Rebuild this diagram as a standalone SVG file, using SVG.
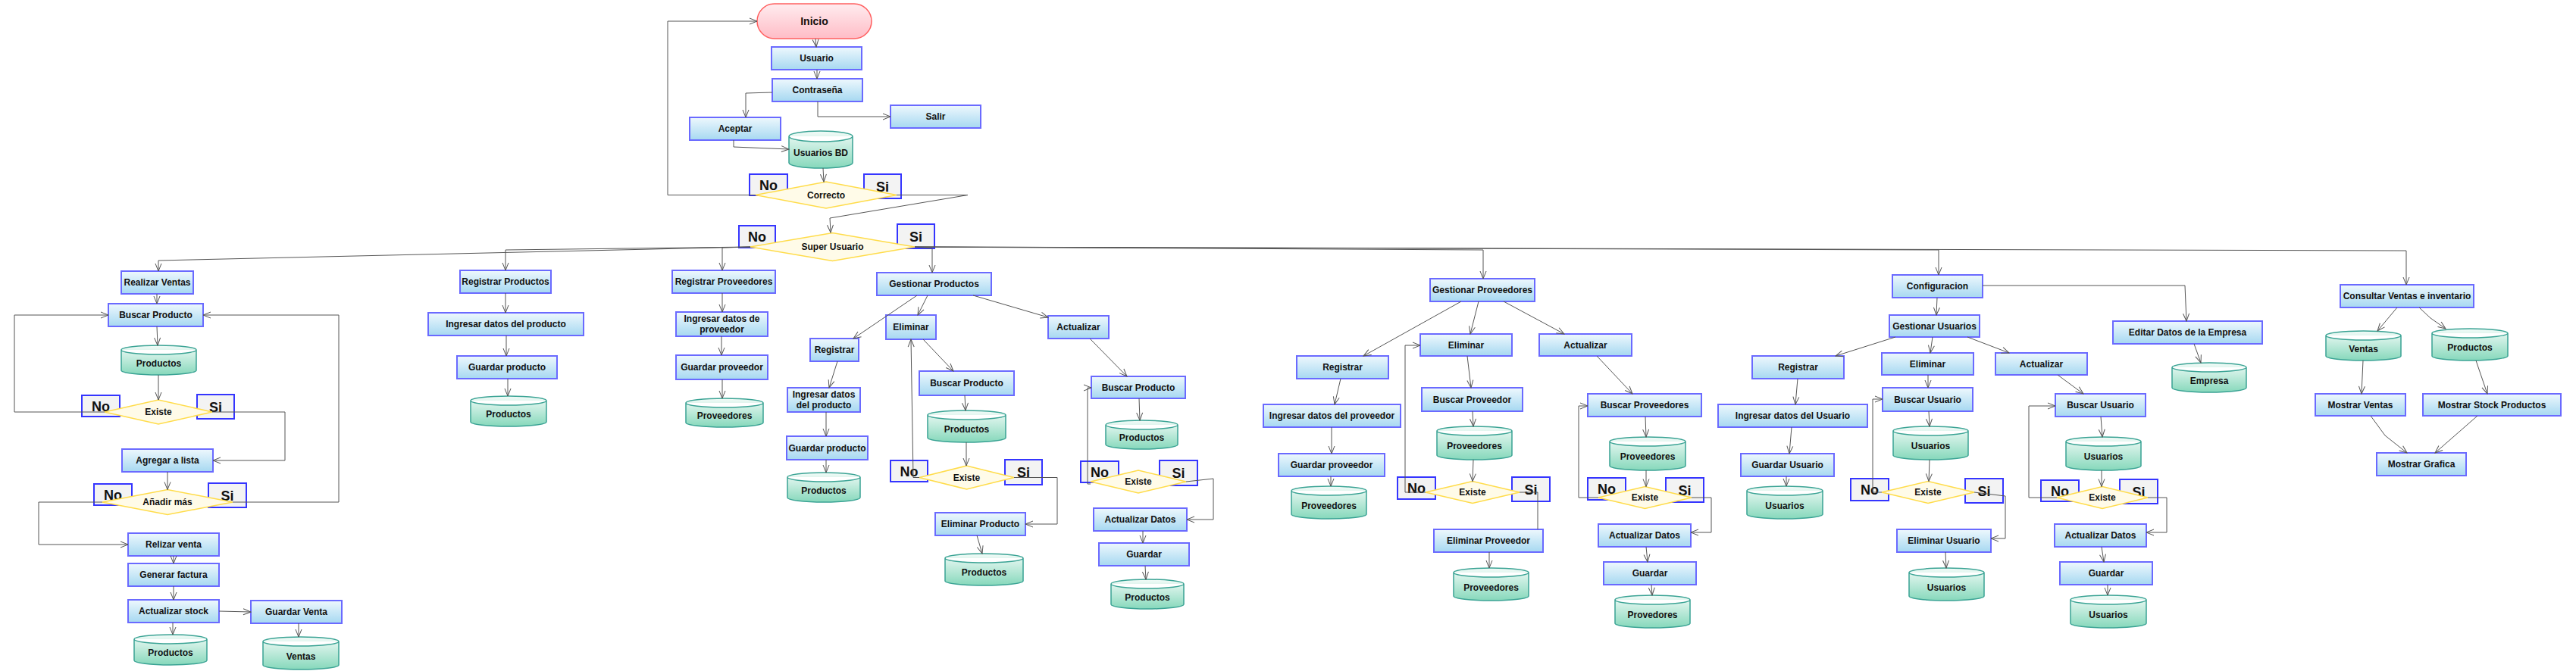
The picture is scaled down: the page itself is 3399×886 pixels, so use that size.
<svg xmlns="http://www.w3.org/2000/svg" width="3399" height="886" viewBox="0 0 3399 886">
<style>
.b{fill:url(#gb);stroke:#6a6aff;stroke-width:2}
.c{fill:url(#gc);stroke:#3aa394;stroke-width:1.5}
.d{fill:#fffbe8;stroke:#ffdc4a;stroke-width:1.5}
.l{fill:#f3f3f3;stroke:#3535ff;stroke-width:2}
text{font-family:"Liberation Sans",Arial,sans-serif;font-weight:bold;fill:#111;text-anchor:middle}
.t{font-size:12px}
.lt{font-size:18px}
.e polyline{fill:none;stroke:#555;stroke-width:1;marker-end:url(#a)}
.e .n{marker-end:none}
</style>
<defs>
<linearGradient id="gb" x1="0" y1="0" x2="0" y2="1"><stop offset="0" stop-color="#eef8fd"/><stop offset="1" stop-color="#a6d8f1"/></linearGradient>
<linearGradient id="gc" x1="0" y1="0" x2="0" y2="1"><stop offset="0" stop-color="#f2fbf8"/><stop offset="1" stop-color="#86d8bb"/></linearGradient>
<linearGradient id="gi" x1="0" y1="0" x2="0" y2="1"><stop offset="0" stop-color="#ffecef"/><stop offset="1" stop-color="#ffbcc6"/></linearGradient>
<marker id="a" markerWidth="12" markerHeight="10" refX="11" refY="5" orient="auto" markerUnits="userSpaceOnUse"><path d="M1,1 L11,5 L1,9" fill="none" stroke="#555" stroke-width="1"/></marker>
</defs>
<rect width="3399" height="886" fill="#fff"/>

<g id="inicio"><rect x="999" y="5" width="151" height="46" rx="23" fill="url(#gi)" stroke="#ff6060" stroke-width="1.5"/><text class="t" x="1074.5" y="33" style="font-size:14px">Inicio</text></g>
<g id="usuario"><rect class="b" x="1018" y="62" width="119" height="30"/><text class="t" x="1077.5" y="81">Usuario</text></g>
<g id="contrasena"><rect class="b" x="1019" y="104" width="119" height="30"/><text class="t" x="1078.5" y="123">Contraseña</text></g>
<g id="aceptar"><rect class="b" x="910" y="155" width="120" height="30"/><text class="t" x="970" y="174">Aceptar</text></g>
<g id="salir"><rect class="b" x="1175" y="139" width="119" height="30"/><text class="t" x="1234.5" y="158">Salir</text></g>
<g id="usuariosBD"><path class="c" d="M1041,180a42,7 0 0 1 84,0v35a42,7 0 0 1-84,0zM1041,180a42,7 0 0 0 84,0"/><text class="t" x="1083" y="205.5">Usuarios BD</text></g>
<g id="correcto"><rect class="l" x="989" y="230" width="50" height="28"/><text class="lt" x="1014" y="250.5">No</text><rect class="l" x="1140" y="230" width="49" height="32"/><text class="lt" x="1164.5" y="252.5">Si</text><polygon class="d" points="997,257.5 1090,240 1183,257.5 1090,275"/><text class="t" x="1090" y="261.5">Correcto</text></g>
<g id="superUsuario"><rect class="l" x="975" y="298" width="48" height="29"/><text class="lt" x="999" y="319">No</text><rect class="l" x="1184" y="296" width="49" height="32"/><text class="lt" x="1208.5" y="318.5">Si</text><polygon class="d" points="990,326 1098.5,307.5 1207,326 1098.5,344.5"/><text class="t" x="1098.5" y="330">Super Usuario</text></g>

<g id="realizarVentas"><rect class="b" x="160" y="358" width="95" height="30"/><text class="t" x="207.5" y="377">Realizar Ventas</text></g>
<g id="rv_buscarProducto"><rect class="b" x="143" y="401" width="125" height="30"/><text class="t" x="205.5" y="420">Buscar Producto</text></g>
<g id="rv_productos1"><path class="c" d="M160,462a49.5,6 0 0 1 99,0v27a49.5,6 0 0 1-99,0zM160,462a49.5,6 0 0 0 99,0"/><text class="t" x="209.5" y="483.5">Productos</text></g>
<g id="rv_existe"><rect class="l" x="108" y="522" width="50" height="28"/><text class="lt" x="133" y="542.5">No</text><rect class="l" x="260" y="521" width="49" height="32"/><text class="lt" x="284.5" y="543.5">Si</text><polygon class="d" points="138,544 209,528 280,544 209,560"/><text class="t" x="209" y="548">Existe</text></g>
<g id="rv_agregar"><rect class="b" x="161" y="593" width="120" height="30"/><text class="t" x="221" y="612">Agregar a lista</text></g>
<g id="rv_anadir"><rect class="l" x="124" y="639" width="50" height="28"/><text class="lt" x="149" y="659.5">No</text><rect class="l" x="275" y="638" width="50" height="32"/><text class="lt" x="300" y="660.5">Si</text><polygon class="d" points="135,663 221,646.5 307,663 221,679.5"/><text class="t" x="221" y="667">Añadir más</text></g>
<g id="rv_relizar"><rect class="b" x="169" y="704" width="120" height="30"/><text class="t" x="229" y="723">Relizar venta</text></g>
<g id="rv_generar"><rect class="b" x="169" y="744" width="120" height="30"/><text class="t" x="229" y="763">Generar factura</text></g>
<g id="rv_actualizarStock"><rect class="b" x="169" y="792" width="120" height="30"/><text class="t" x="229" y="811">Actualizar stock</text></g>
<g id="rv_guardarVenta"><rect class="b" x="331" y="793" width="120" height="30"/><text class="t" x="391" y="812">Guardar Venta</text></g>
<g id="rv_productos2"><path class="c" d="M177,844a48,6 0 0 1 96,0v28a48,6 0 0 1-96,0zM177,844a48,6 0 0 0 96,0"/><text class="t" x="225" y="866">Productos</text></g>
<g id="rv_ventas"><path class="c" d="M347,847a50,6 0 0 1 100,0v31a50,6 0 0 1-100,0zM347,847a50,6 0 0 0 100,0"/><text class="t" x="397" y="870.5">Ventas</text></g>

<g id="registrarProductos"><rect class="b" x="607" y="357" width="120" height="30"/><text class="t" x="667" y="376">Registrar Productos</text></g>
<g id="rp_ingresar"><rect class="b" x="565" y="413" width="205" height="30"/><text class="t" x="667.5" y="432">Ingresar datos del producto</text></g>
<g id="rp_guardar"><rect class="b" x="603" y="470" width="132" height="30"/><text class="t" x="669" y="489">Guardar producto</text></g>
<g id="rp_productos"><path class="c" d="M621,529a50,6 0 0 1 100,0v28a50,6 0 0 1-100,0zM621,529a50,6 0 0 0 100,0"/><text class="t" x="671" y="551">Productos</text></g>

<g id="registrarProveedores"><rect class="b" x="887" y="357" width="136" height="30"/><text class="t" x="955" y="376">Registrar Proveedores</text></g>
<g id="rpr_ingresar"><rect class="b" x="892" y="412" width="121" height="32"/><text class="t" x="952.5" y="425">Ingresar datos de</text><text class="t" x="952.5" y="439">proveedor</text></g>
<g id="rpr_guardar"><rect class="b" x="892" y="469" width="121" height="32"/><text class="t" x="952.5" y="489">Guardar proveedor</text></g>
<g id="rpr_proveedores"><path class="c" d="M905,532a51,6 0 0 1 102,0v26a51,6 0 0 1-102,0zM905,532a51,6 0 0 0 102,0"/><text class="t" x="956" y="553">Proveedores</text></g>

<g id="gestionarProductos"><rect class="b" x="1157" y="360" width="151" height="30"/><text class="t" x="1232.5" y="379">Gestionar Productos</text></g>
<g id="gp_registrar"><rect class="b" x="1069" y="447" width="64" height="30"/><text class="t" x="1101" y="466">Registrar</text></g>
<g id="gp_ingresar"><rect class="b" x="1039" y="512" width="96" height="32"/><text class="t" x="1087" y="525">Ingresar datos</text><text class="t" x="1087" y="539">del producto</text></g>
<g id="gp_guardar"><rect class="b" x="1038" y="576" width="107" height="31"/><text class="t" x="1091.5" y="595.5">Guardar producto</text></g>
<g id="gp_productos1"><path class="c" d="M1039,630a48,6 0 0 1 96,0v27a48,6 0 0 1-96,0zM1039,630a48,6 0 0 0 96,0"/><text class="t" x="1087" y="651.5">Productos</text></g>
<g id="gp_eliminar"><rect class="b" x="1169" y="416" width="66" height="32"/><text class="t" x="1202" y="436">Eliminar</text></g>
<g id="gp_buscar1"><rect class="b" x="1213" y="490" width="125" height="32"/><text class="t" x="1275.5" y="510">Buscar Producto</text></g>
<g id="gp_productos2"><path class="c" d="M1224,548a51.5,6 0 0 1 103,0v30a51.5,6 0 0 1-103,0zM1224,548a51.5,6 0 0 0 103,0"/><text class="t" x="1275.5" y="571">Productos</text></g>
<g id="gp_existe1"><rect class="l" x="1175" y="608" width="49" height="28"/><text class="lt" x="1199.5" y="628.5">No</text><rect class="l" x="1326" y="607" width="49" height="33"/><text class="lt" x="1350.5" y="630">Si</text><polygon class="d" points="1213,630.5 1275.5,615 1338,630.5 1275.5,646"/><text class="t" x="1275.5" y="634.5">Existe</text></g>
<g id="gp_eliminarProducto"><rect class="b" x="1234" y="677" width="119" height="30"/><text class="t" x="1293.5" y="696">Eliminar Producto</text></g>
<g id="gp_productos3"><path class="c" d="M1247,737a51.5,6 0 0 1 103,0v30a51.5,6 0 0 1-103,0zM1247,737a51.5,6 0 0 0 103,0"/><text class="t" x="1298.5" y="760">Productos</text></g>
<g id="gp_actualizar"><rect class="b" x="1383" y="417" width="80" height="30"/><text class="t" x="1423" y="436">Actualizar</text></g>
<g id="gp_buscar2"><rect class="b" x="1440" y="497" width="124" height="29"/><text class="t" x="1502" y="515.5">Buscar Producto</text></g>
<g id="gp_productos4"><path class="c" d="M1459,561a47.5,6 0 0 1 95,0v26a47.5,6 0 0 1-95,0zM1459,561a47.5,6 0 0 0 95,0"/><text class="t" x="1506.5" y="582">Productos</text></g>
<g id="gp_existe2"><rect class="l" x="1426" y="609" width="50" height="28"/><text class="lt" x="1451" y="629.5">No</text><rect class="l" x="1530" y="608" width="50" height="33"/><text class="lt" x="1555" y="631">Si</text><polygon class="d" points="1439,636 1502,621 1565,636 1502,651"/><text class="t" x="1502" y="640">Existe</text></g>
<g id="gp_actualizarDatos"><rect class="b" x="1443" y="671" width="123" height="30"/><text class="t" x="1504.5" y="690">Actualizar Datos</text></g>
<g id="gp_guardar2"><rect class="b" x="1450" y="717" width="119" height="30"/><text class="t" x="1509.5" y="736">Guardar</text></g>
<g id="gp_productos5"><path class="c" d="M1466,771a48,6 0 0 1 96,0v27a48,6 0 0 1-96,0zM1466,771a48,6 0 0 0 96,0"/><text class="t" x="1514" y="792.5">Productos</text></g>

<g id="gestionarProveedores"><rect class="b" x="1887" y="368" width="138" height="30"/><text class="t" x="1956" y="387">Gestionar Proveedores</text></g>
<g id="gpr_registrar"><rect class="b" x="1711" y="470" width="121" height="30"/><text class="t" x="1771.5" y="489">Registrar</text></g>
<g id="gpr_ingresar"><rect class="b" x="1667" y="534" width="181" height="30"/><text class="t" x="1757.5" y="553">Ingresar datos del proveedor</text></g>
<g id="gpr_guardar"><rect class="b" x="1687" y="599" width="140" height="30"/><text class="t" x="1757" y="618">Guardar proveedor</text></g>
<g id="gpr_proveedores1"><path class="c" d="M1704,648a49.5,6 0 0 1 99,0v31a49.5,6 0 0 1-99,0zM1704,648a49.5,6 0 0 0 99,0"/><text class="t" x="1753.5" y="671.5">Proveedores</text></g>
<g id="gpr_eliminar"><rect class="b" x="1874" y="441" width="121" height="29"/><text class="t" x="1934.5" y="459.5">Eliminar</text></g>
<g id="gpr_buscar"><rect class="b" x="1876" y="512" width="133" height="31"/><text class="t" x="1942.5" y="531.5">Buscar Proveedor</text></g>
<g id="gpr_proveedores2"><path class="c" d="M1896,569a49.5,6 0 0 1 99,0v32a49.5,6 0 0 1-99,0zM1896,569a49.5,6 0 0 0 99,0"/><text class="t" x="1945.5" y="593">Proveedores</text></g>
<g id="gpr_existe1"><rect class="l" x="1844" y="630" width="50" height="29"/><text class="lt" x="1869" y="651">No</text><rect class="l" x="1995" y="630" width="50" height="32"/><text class="lt" x="2020" y="652.5">Si</text><polygon class="d" points="1881,650 1943,635.5 2005,650 1943,664.5"/><text class="t" x="1943" y="654">Existe</text></g>
<g id="gpr_eliminarProveedor"><rect class="b" x="1892" y="699" width="144" height="30"/><text class="t" x="1964" y="718">Eliminar Proveedor</text></g>
<g id="gpr_proveedores3"><path class="c" d="M1918,756a49.5,6 0 0 1 99,0v31a49.5,6 0 0 1-99,0zM1918,756a49.5,6 0 0 0 99,0"/><text class="t" x="1967.5" y="779.5">Proveedores</text></g>
<g id="gpr_actualizar"><rect class="b" x="2031" y="441" width="122" height="29"/><text class="t" x="2092" y="459.5">Actualizar</text></g>
<g id="gpr_buscar2"><rect class="b" x="2095" y="520" width="150" height="30"/><text class="t" x="2170" y="539">Buscar Proveedores</text></g>
<g id="gpr_proveedores4"><path class="c" d="M2124,583a50,6 0 0 1 100,0v32a50,6 0 0 1-100,0zM2124,583a50,6 0 0 0 100,0"/><text class="t" x="2174" y="607">Proveedores</text></g>
<g id="gpr_existe2"><rect class="l" x="2095" y="631" width="50" height="29"/><text class="lt" x="2120" y="652">No</text><rect class="l" x="2198" y="631" width="50" height="32"/><text class="lt" x="2223" y="653.5">Si</text><polygon class="d" points="2109,657 2170.5,642.5 2232,657 2170.5,671.5"/><text class="t" x="2170.5" y="661">Existe</text></g>
<g id="gpr_actualizarDatos"><rect class="b" x="2109" y="692" width="122" height="30"/><text class="t" x="2170" y="711">Actualizar Datos</text></g>
<g id="gpr_guardar2"><rect class="b" x="2116" y="742" width="122" height="30"/><text class="t" x="2177" y="761">Guardar</text></g>
<g id="gpr_provedores5"><path class="c" d="M2131,792a49.5,6 0 0 1 99,0v31a49.5,6 0 0 1-99,0zM2131,792a49.5,6 0 0 0 99,0"/><text class="t" x="2180.5" y="815.5">Provedores</text></g>

<g id="configuracion"><rect class="b" x="2497" y="363" width="119" height="30"/><text class="t" x="2556.5" y="382">Configuracion</text></g>
<g id="gestionarUsuarios"><rect class="b" x="2493" y="416" width="119" height="29"/><text class="t" x="2552.5" y="434.5">Gestionar Usuarios</text></g>
<g id="gu_registrar"><rect class="b" x="2312" y="470" width="121" height="30"/><text class="t" x="2372.5" y="489">Registrar</text></g>
<g id="gu_ingresar"><rect class="b" x="2267" y="534" width="197" height="30"/><text class="t" x="2365.5" y="553">Ingresar datos del Usuario</text></g>
<g id="gu_guardar"><rect class="b" x="2297" y="599" width="123" height="30"/><text class="t" x="2358.5" y="618">Guardar Usuario</text></g>
<g id="gu_usuarios1"><path class="c" d="M2305,648a50,6 0 0 1 100,0v31a50,6 0 0 1-100,0zM2305,648a50,6 0 0 0 100,0"/><text class="t" x="2355" y="671.5">Usuarios</text></g>
<g id="gu_eliminar"><rect class="b" x="2483" y="466" width="121" height="29"/><text class="t" x="2543.5" y="484.5">Eliminar</text></g>
<g id="gu_buscar"><rect class="b" x="2484" y="512" width="119" height="31"/><text class="t" x="2543.5" y="531.5">Buscar Usuario</text></g>
<g id="gu_usuarios2"><path class="c" d="M2498,569a49.5,6 0 0 1 99,0v32a49.5,6 0 0 1-99,0zM2498,569a49.5,6 0 0 0 99,0"/><text class="t" x="2547.5" y="593">Usuarios</text></g>
<g id="gu_existe1"><rect class="l" x="2442" y="632" width="50" height="29"/><text class="lt" x="2467" y="653">No</text><rect class="l" x="2593" y="632" width="50" height="32"/><text class="lt" x="2618" y="654.5">Si</text><polygon class="d" points="2483,650 2544,635.5 2605,650 2544,664.5"/><text class="t" x="2544" y="654">Existe</text></g>
<g id="gu_eliminarUsuario"><rect class="b" x="2503" y="699" width="124" height="30"/><text class="t" x="2565" y="718">Eliminar Usuario</text></g>
<g id="gu_usuarios3"><path class="c" d="M2519,756a49.5,6 0 0 1 99,0v31a49.5,6 0 0 1-99,0zM2519,756a49.5,6 0 0 0 99,0"/><text class="t" x="2568.5" y="779.5">Usuarios</text></g>
<g id="gu_actualizar"><rect class="b" x="2633" y="466" width="121" height="29"/><text class="t" x="2693.5" y="484.5">Actualizar</text></g>
<g id="gu_buscar2"><rect class="b" x="2712" y="520" width="119" height="30"/><text class="t" x="2771.5" y="539">Buscar Usuario</text></g>
<g id="gu_usuarios4"><path class="c" d="M2726,583a49.5,6 0 0 1 99,0v32a49.5,6 0 0 1-99,0zM2726,583a49.5,6 0 0 0 99,0"/><text class="t" x="2775.5" y="607">Usuarios</text></g>
<g id="gu_existe2"><rect class="l" x="2693" y="634" width="50" height="28"/><text class="lt" x="2718" y="654.5">No</text><rect class="l" x="2797" y="633" width="50" height="32"/><text class="lt" x="2822" y="655.5">Si</text><polygon class="d" points="2714,657 2774,642.5 2834,657 2774,671.5"/><text class="t" x="2774" y="661">Existe</text></g>
<g id="gu_actualizarDatos"><rect class="b" x="2711" y="692" width="121" height="30"/><text class="t" x="2771.5" y="711">Actualizar Datos</text></g>
<g id="gu_guardar2"><rect class="b" x="2718" y="742" width="122" height="30"/><text class="t" x="2779" y="761">Guardar</text></g>
<g id="gu_usuarios5"><path class="c" d="M2732,792a50,6 0 0 1 100,0v31a50,6 0 0 1-100,0zM2732,792a50,6 0 0 0 100,0"/><text class="t" x="2782" y="815.5">Usuarios</text></g>
<g id="editarEmpresa"><rect class="b" x="2788" y="424" width="197" height="30"/><text class="t" x="2886.5" y="443">Editar Datos de la Empresa</text></g>
<g id="empresa"><path class="c" d="M2866,485a49,6 0 0 1 98,0v27a49,6 0 0 1-98,0zM2866,485a49,6 0 0 0 98,0"/><text class="t" x="2915" y="506.5">Empresa</text></g>

<g id="consultar"><rect class="b" x="3088" y="376" width="176" height="30"/><text class="t" x="3176" y="395">Consultar Ventas e inventario</text></g>
<g id="cv_ventas"><path class="c" d="M3069,443a49.5,6 0 0 1 99,0v27a49.5,6 0 0 1-99,0zM3069,443a49.5,6 0 0 0 99,0"/><text class="t" x="3118.5" y="464.5">Ventas</text></g>
<g id="cv_productos"><path class="c" d="M3209,440a50,6 0 0 1 100,0v30a50,6 0 0 1-100,0zM3209,440a50,6 0 0 0 100,0"/><text class="t" x="3259" y="463">Productos</text></g>
<g id="mostrarVentas"><rect class="b" x="3055" y="520" width="119" height="29"/><text class="t" x="3114.5" y="538.5">Mostrar Ventas</text></g>
<g id="mostrarStock"><rect class="b" x="3197" y="520" width="182" height="29"/><text class="t" x="3288" y="538.5">Mostrar Stock Productos</text></g>
<g id="mostrarGrafica"><rect class="b" x="3136" y="598" width="118" height="30"/><text class="t" x="3195" y="617">Mostrar Grafica</text></g>

<g id="connectors" class="e">
<polyline points="1076,51 1077,62"/>
<polyline points="1078,92 1078,104"/>
<polyline points="1019,122 984,123 984,155"/>
<polyline points="1079,134 1079,154 1175,154"/>
<polyline points="968,185 968,194 1041,197"/>
<polyline points="1086,222 1087,240"/>
<polyline points="997,257.5 881,257.5 881,28 999,28"/>
<polyline points="1183,257.5 1277,257.5 1095,288 1096,307"/>
<polyline points="990,326 209,344 209,358"/>
<polyline points="990,326 667,330 667,357"/>
<polyline points="990,326 953,327 953,357"/>
<polyline points="1207,326 1230,328 1230,360"/>
<polyline points="1207,326 1957,330 1957,368"/>
<polyline points="1207,326 2558,330 2558,363"/>
<polyline points="1207,326 3175,331 3175,376"/>
<polyline points="207,388 207,401"/>
<polyline points="207,431 208,456"/>
<polyline points="209,495 209,528"/>
<polyline points="138,544 19,544 19,416 143,416"/>
<polyline points="280,544 376,544 376,608 281,608"/>
<polyline points="221,623 221,646.5"/>
<polyline points="307,663 447,663 447,416 268,416"/>
<polyline points="135,663 51,663 51,719 169,719"/>
<polyline points="229,734 229,744"/>
<polyline points="229,774 229,792"/>
<polyline points="289,807 331,808"/>
<polyline points="228,822 228,838"/>
<polyline points="394,823 394,841"/>
<polyline points="667,387 667,413"/>
<polyline points="668,443 668,470"/>
<polyline points="670,500 670,523"/>
<polyline points="953,387 953,412"/>
<polyline points="952,444 952,469"/>
<polyline points="953,501 953,526"/>
<polyline points="1210,390 1126,447"/>
<polyline points="1224,390 1211,416"/>
<polyline points="1284,390 1383,419"/>
<polyline points="1105,477 1094,512"/>
<polyline points="1090,544 1090,576"/>
<polyline points="1090,607 1090,624"/>
<polyline points="1218,448 1258,490"/>
<polyline points="1273,522 1274,542"/>
<polyline points="1275,584 1275,615"/>
<polyline points="1213,630.5 1205,630.5 1202,448"/>
<polyline points="1338,630.5 1395,630.5 1395,692 1353,692"/>
<polyline points="1289,707 1296,731"/>
<polyline points="1438,447 1487,497"/>
<polyline points="1503,526 1504,555"/>
<polyline points="1439,639 1435,639 1435,512 1440,512"/>
<polyline points="1565,636 1601,632 1601,686 1566,686"/>
<polyline points="1508,701 1508,717"/>
<polyline points="1511,747 1512,765"/>
<polyline points="1928,398 1799,470"/>
<polyline points="1951,398 1940,441"/>
<polyline points="1984,398 2064,441"/>
<polyline points="1769,500 1761,534"/>
<polyline points="1757,564 1757,599"/>
<polyline points="1756,629 1756,642"/>
<polyline points="1936,470 1941,512"/>
<polyline points="1943,543 1944,563"/>
<polyline points="1944,607 1943,635.5"/>
<polyline points="1881,650 1854,650 1854,456 1874,456"/>
<polyline class="n" points="2005,650 2029,650 2029,699"/>
<polyline points="1965,729 1965,750"/>
<polyline points="2107,470 2154,520"/>
<polyline points="2171,550 2172,577"/>
<polyline points="2172,621 2172,642.5"/>
<polyline points="2109,657 2083,657 2083,536 2095,536"/>
<polyline points="2232,657 2258,657 2258,703 2231,703"/>
<polyline points="2172,722 2174,742"/>
<polyline points="2179,772 2180,786"/>
<polyline points="2556,393 2555,416"/>
<polyline points="2616,377 2883,377 2885,424"/>
<polyline points="2501,445 2422,470"/>
<polyline points="2550,445 2547,466"/>
<polyline points="2596,445 2651,466"/>
<polyline points="2372,500 2369,534"/>
<polyline points="2364,564 2361,599"/>
<polyline points="2357,629 2357,642"/>
<polyline points="2544,495 2544,512"/>
<polyline points="2545,543 2546,563"/>
<polyline points="2546,607 2545,635.5"/>
<polyline points="2483,650 2471,650 2471,527 2484,527"/>
<polyline points="2605,650 2646,655 2646,711 2627,711"/>
<polyline points="2567,729 2568,750"/>
<polyline points="2715,495 2749,520"/>
<polyline points="2772,550 2774,577"/>
<polyline points="2773,621 2773,642.5"/>
<polyline points="2714,657 2677,657 2677,536 2712,536"/>
<polyline points="2834,657 2859,657 2859,703 2832,703"/>
<polyline points="2773,722 2776,742"/>
<polyline points="2781,772 2781,786"/>
<polyline points="2895,454 2904,479"/>
<polyline points="3163,406 3137,437"/>
<polyline points="3192,406 3207,420 3227,434"/>
<polyline points="3118,476 3116,520"/>
<polyline points="3267,476 3282,520"/>
<polyline points="3128,549 3147,575 3176,598"/>
<polyline points="3269,549 3213,598"/>
</g>
</svg>
